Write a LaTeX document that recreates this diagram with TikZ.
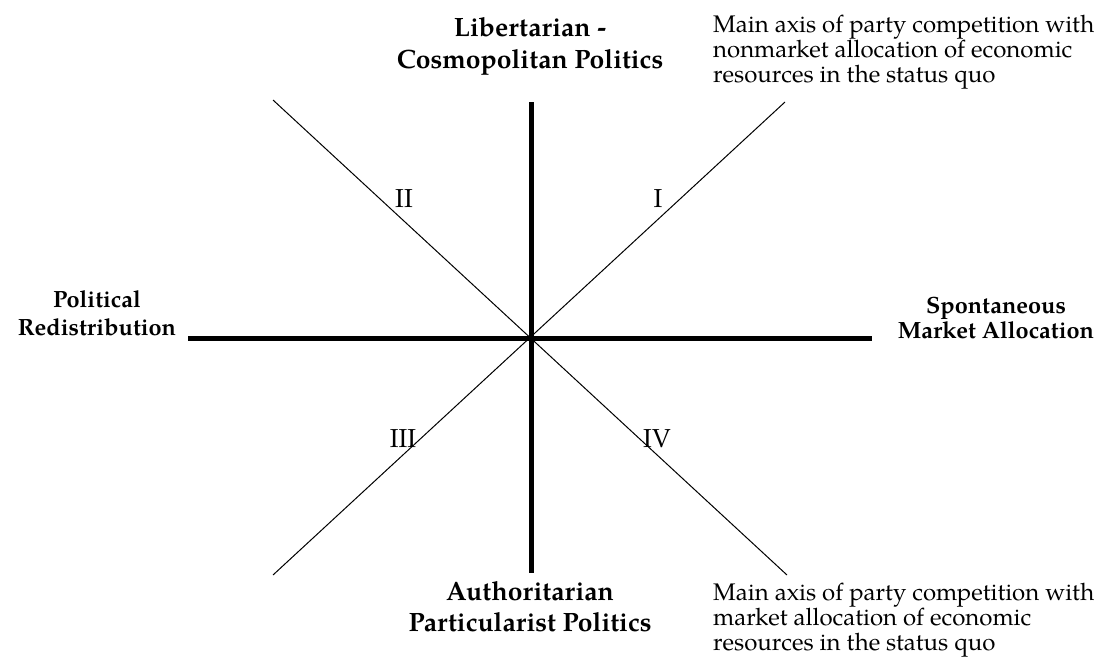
\documentclass[tikz,border=0pt]{standalone}
\usepackage{fontspec}
\setmainfont{TeX Gyre Pagella}
\begin{document}
\begin{tikzpicture}[x=1pt,y=-1pt,
  axis/.style={line width=5pt},
  diag/.style={line width=1pt},
  lbl/.style={inner sep=0pt,align=center,anchor=base},
  big/.style={font=\bfseries\fontsize{26.5}{32}\selectfont},
  mid/.style={font=\bfseries\fontsize{23.5}{28}\selectfont},
  note/.style={inner sep=0pt,font=\fontsize{24}{25}\selectfont,align=left,anchor=base west},
  quad/.style={inner sep=0pt,font=\fontsize{26}{30}\selectfont,anchor=base}]
\useasboundingbox (0,0) rectangle (1098,662);
\coordinate (O) at (531,338);
\coordinate (N) at (531,102);
\coordinate (S) at (531,573);
\coordinate (W) at (188,338);
\coordinate (E) at (872,338);
\coordinate (NE) at (785,102);
\coordinate (SW) at (273,575);
\coordinate (NW) at (273,100);
\coordinate (SE) at (787,575);
\draw[axis] (N) -- (S);
\draw[axis] (W) -- (E);
\draw[diag] (SW) -- (NE);
\draw[diag] (NW) -- (SE);
\node[lbl,big] (top) at (530,68) {Libertarian -\\Cosmopolitan Politics};
\node[lbl,mid] (left) at (97,335) {Political\\Redistribution};
\node[lbl,mid,font=\bfseries\fontsize{23.5}{25}\selectfont] (right) at (996,338) {Spontaneous\\Market Allocation};
\node[lbl,big,font=\bfseries\fontsize{26.5}{31}\selectfont] (bottom) at (530,631) {Authoritarian\\Particularist Politics};
\node[note] (tr) at (713,82) {Main axis of party competition with\\nonmarket allocation of economic\\resources in the status quo};
\node[note] (br) at (713,650) {Main axis of party competition with\\market allocation of economic\\resources in the status quo};
\node[quad] (q1) at (658,207) {I};
\node[quad] (q2) at (404,207) {II};
\node[quad] (q3) at (403,447) {III};
\node[quad] (q4) at (657,447) {IV};
\end{tikzpicture}
\end{document}
